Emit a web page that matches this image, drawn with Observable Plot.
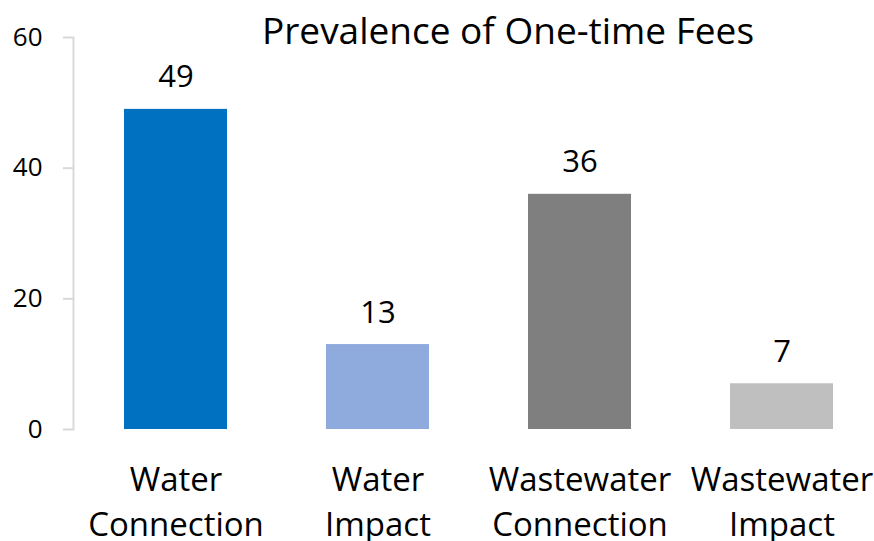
<!DOCTYPE html>
<html>
<head>
<meta charset="utf-8">
<script src="https://cdn.jsdelivr.net/npm/d3@7"></script>
<script src="https://cdn.jsdelivr.net/npm/@observablehq/plot@0.6"></script>
<style>
  html, body { margin: 0; padding: 0; background: #fff; overflow: hidden; }
  #chart { width: 874px; height: 541px; overflow: hidden; }
</style>
</head>
<body>
<div id="chart"></div>
<script>
const title = "Prevalence of One-time Fees";
const categories = ["Water Connection", "Water Impact", "Wastewater Connection", "Wastewater Impact"];
const categoryLabels = ["Water\nConnection", "Water\nImpact", "Wastewater\nConnection", "Wastewater\nImpact"];
const values = [49, 13, 36, 7];
const colors = ["#0070C0", "#8FAADC", "#7F7F7F", "#BFBFBF"];
const yTicks = [0, 20, 40, 60];

const data = categories.map((c, i) => ({category: c, value: values[i], color: colors[i]}));
const labelOf = new Map(categories.map((c, i) => [c, categoryLabels[i]]));

const font = "'Open Sans', sans-serif";

const chart = Plot.plot({
  width: 874,
  height: 541,
  marginTop: 37,
  marginBottom: 112,
  marginLeft: 73,
  marginRight: 0,
  style: {fontFamily: font, background: "#fff", color: "#000"},
  x: {domain: categories, range: [73, 885], paddingInner: 0.49, paddingOuter: 0.246, label: null},
  y: {domain: [0, 60], label: null},
  marks: [
    Plot.axisY({ticks: yTicks, tickSize: 10, tickPadding: 21, fontSize: 26, stroke: "#d9d9d9", strokeWidth: 2, strokeOpacity: 1, fill: "#000", label: null}),
    Plot.axisX({tickSize: 0, tickPadding: 30, fontSize: 33, lineHeight: 1.36, fill: "#000", tickFormat: d => labelOf.get(d), label: null}),
    Plot.barY(data, {x: "category", y: "value", fill: "color"}),
    Plot.frame({anchor: "left", stroke: "#d9d9d9", strokeWidth: 2}),
    Plot.ruleY([0], {stroke: "#d9d9d9", strokeWidth: 2, x1: -10}),
    Plot.text(data, {x: "category", y: "value", text: d => String(d.value), dy: -22, lineAnchor: "bottom", fontSize: 31, fill: "#000"}),
    Plot.text([title], {frameAnchor: "top", dx: 34, dy: -5, lineAnchor: "middle", fontSize: 37, fill: "#000"})
  ]
});
document.getElementById("chart").append(chart);
</script>
</body>
</html>
